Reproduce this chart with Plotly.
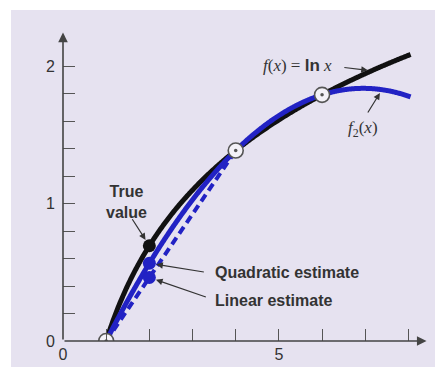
import numpy as np
import plotly.graph_objects as go

# Interpolation nodes of f(x) = ln x
x_nodes = [1, 4, 6]
f_nodes = [0.0, 1.386294, 1.791759]

# Estimates of f(2)
x_eval = 2
true_value = 0.6931472
quadratic_estimate = 0.5658444
linear_estimate = 0.4620981

x_end = 8.05

# Labelled ticks and unlabelled (minor) ticks
y_tick_vals = [0, 1, 2]
y_tick_text = ["0", "1", "2"]
y_minor_vals = [0.2, 0.4, 0.6, 0.8, 1.2, 1.4, 1.6, 1.8]
x_tick_vals = [0, 5]
x_tick_text = ["0", "5"]
x_minor_vals = [1, 2, 3, 4, 6, 7, 8]

BLUE = "#2222c4"
BLACK = "#111111"
TXT = "#333333"
BG = "#e6e2f0"

# Newton divided differences for the quadratic through the nodes
b0 = f_nodes[0]
b1 = (f_nodes[1] - f_nodes[0]) / (x_nodes[1] - x_nodes[0])
b2 = ((f_nodes[2] - f_nodes[1]) / (x_nodes[2] - x_nodes[1]) - b1) / (x_nodes[2] - x_nodes[0])

xs = np.linspace(x_nodes[0], x_end, 400)
ln_curve = np.log(xs)
f2_curve = b0 + b1 * (xs - x_nodes[0]) + b2 * (xs - x_nodes[0]) * (xs - x_nodes[1])

fig = go.Figure()

fig.add_trace(go.Scatter(x=xs, y=ln_curve, mode="lines",
                         line=dict(color=BLACK, width=5, simplify=False), hoverinfo="skip"))
fig.add_trace(go.Scatter(x=[x_nodes[0], x_nodes[1]], y=[f_nodes[0], f_nodes[1]], mode="lines",
                         line=dict(color=BLUE, width=4, dash="8px,5px"), hoverinfo="skip"))
fig.add_trace(go.Scatter(x=xs, y=f2_curve, mode="lines",
                         line=dict(color=BLUE, width=5, simplify=False), hoverinfo="skip"))

# Estimate points at x = 2
fig.add_trace(go.Scatter(x=[x_eval, x_eval], y=[quadratic_estimate, linear_estimate], mode="markers",
                         marker=dict(color=BLUE, size=13), hoverinfo="skip"))
fig.add_trace(go.Scatter(x=[x_eval], y=[true_value], mode="markers",
                         marker=dict(color=BLACK, size=13), hoverinfo="skip"))

# Node markers: open circle with centre dot
fig.add_trace(go.Scatter(x=x_nodes, y=f_nodes, mode="markers",
                         marker=dict(color="#f4f2f8", size=15, line=dict(color="#555555", width=1.6)),
                         hoverinfo="skip"))
fig.add_trace(go.Scatter(x=x_nodes, y=f_nodes, mode="markers",
                         marker=dict(color="#555555", size=3.5), hoverinfo="skip"))

annotations = []

# Axis arrows
annotations.append(dict(x=8.42, y=0, ax=0, ay=0, xref="x", yref="y", axref="x", ayref="y",
                        text="", showarrow=True, arrowhead=2, arrowsize=1.2, arrowwidth=1.6,
                        arrowcolor="#444444"))
annotations.append(dict(x=0, y=2.245, ax=0, ay=0, xref="x", yref="y", axref="x", ayref="y",
                        text="", showarrow=True, arrowhead=2, arrowsize=1.2, arrowwidth=1.6,
                        arrowcolor="#444444"))

# Axis titles
annotations.append(dict(x=-0.48, y=2.245, xref="x", yref="y", showarrow=False,
                        text="<i>f</i>(<i>x</i>)",
                        font=dict(family="Liberation Serif", size=17, color=TXT)))
annotations.append(dict(x=8.42, y=-0.08, xref="x", yref="y", showarrow=False,
                        text="<i>x</i>",
                        font=dict(family="Liberation Serif", size=17, color=TXT)))

lbl_font = dict(family="Liberation Sans", size=16, color=TXT)


def pointer(x, y, ax, ay):
    annotations.append(dict(x=x, y=y, ax=ax, ay=ay, xref="x", yref="y", text="",
                            showarrow=True, arrowhead=2, arrowsize=1.1, arrowwidth=1.2,
                            arrowcolor="#333333", standoff=7))


# True value
annotations.append(dict(x=1.46, y=1.015, xref="x", yref="y", showarrow=False,
                        text="<b>True<br>value</b>", font=lbl_font, align="center"))
pointer(x_eval, true_value, -18, -28)

# Quadratic / linear estimates
annotations.append(dict(x=3.47, y=quadratic_estimate - 0.07, xref="x", yref="y", showarrow=False,
                        xanchor="left", text="<b>Quadratic estimate</b>", font=lbl_font))
pointer(x_eval, quadratic_estimate, 56, 9)
annotations.append(dict(x=3.47, y=linear_estimate - 0.165, xref="x", yref="y", showarrow=False,
                        xanchor="left", text="<b>Linear estimate</b>", font=lbl_font))
pointer(x_eval, linear_estimate, 58, 20)

# Curve labels
annotations.append(dict(x=5.42, y=2.005, xref="x", yref="y", showarrow=False,
                        text=("<i>f</i>(<i>x</i>) = "
                              "<span style='font-family:Liberation Sans'><b>ln</b></span> <i>x</i>"),
                        font=dict(family="Liberation Serif", size=17, color=TXT)))
annotations.append(dict(x=7.06, y=1.97, ax=-25, ay=-3, xref="x", yref="y", text="",
                        showarrow=True, arrowhead=2, arrowsize=1.1, arrowwidth=1.2,
                        arrowcolor="#333333"))
annotations.append(dict(x=6.95, y=1.54, xref="x", yref="y", showarrow=False,
                        text="<i>f</i><sub>2</sub>(<i>x</i>)",
                        font=dict(family="Liberation Serif", size=17, color=TXT)))
annotations.append(dict(x=7.34, y=1.805, ax=-13, ay=21, xref="x", yref="y", text="",
                        showarrow=True, arrowhead=2, arrowsize=1.1, arrowwidth=1.2,
                        arrowcolor="#333333"))

fig.update_layout(
    width=435, height=367,
    margin=dict(l=63, r=5, t=25, b=26),
    paper_bgcolor="white",
    plot_bgcolor=BG,
    showlegend=False,
    annotations=annotations,
    shapes=[dict(type="rect", xref="paper", yref="paper", x0=-0.1417, x1=1.02, y0=-0.0823, y1=1.0475,
                 fillcolor=BG, line=dict(width=0), layer="below")],
)

fig.update_xaxes(range=[0, 8.5], showgrid=False, zeroline=False, showline=False,
                 tickmode="array", tickvals=x_tick_vals, ticktext=x_tick_text,
                 ticks="inside", ticklen=12, tickwidth=1.4, tickcolor="#555555",
                 tickfont=dict(family="Liberation Sans", size=16, color=TXT),
                 ticklabelstandoff=2,
                 minor=dict(tickmode="array", tickvals=x_minor_vals, ticks="inside",
                            ticklen=12, tickwidth=1.4, tickcolor="#555555", showgrid=False))
fig.update_yaxes(range=[0, 2.3], showgrid=False, zeroline=False, showline=False,
                 tickmode="array", tickvals=y_tick_vals, ticktext=y_tick_text,
                 ticks="inside", ticklen=12, tickwidth=1.4, tickcolor="#555555",
                 tickfont=dict(family="Liberation Sans", size=16, color=TXT),
                 ticklabelstandoff=7,
                 minor=dict(tickmode="array", tickvals=y_minor_vals, ticks="inside",
                            ticklen=12, tickwidth=1.4, tickcolor="#555555", showgrid=False))

fig.write_html("out.html")
